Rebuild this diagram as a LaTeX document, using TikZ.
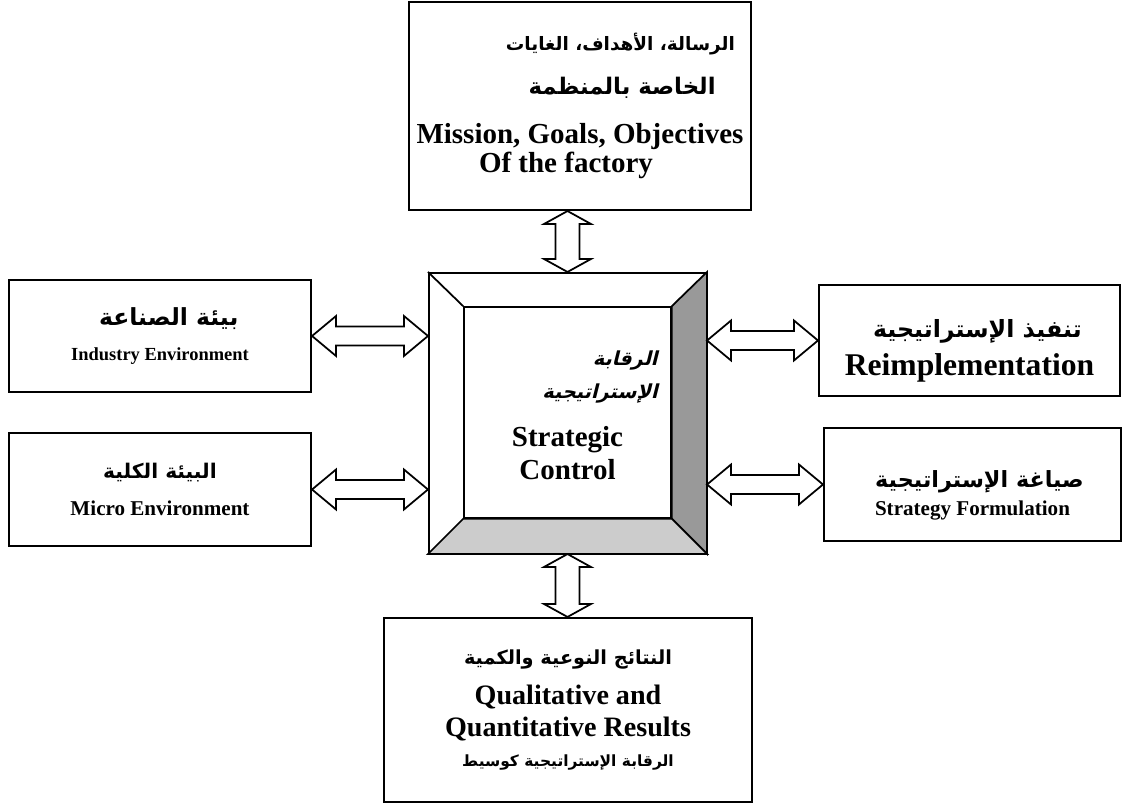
\documentclass[tikz,border=0pt]{standalone}
\usepackage{fontspec}
\setmainfont{Liberation Serif}
\newfontfamily\arabicfont[Script=Arabic]{DejaVu Sans}
\newfontfamily\arabicslant[Script=Arabic,FakeSlant=0.25]{DejaVu Sans Bold}
\TeXXeTstate=1
\usetikzlibrary{calc}

% arabic text, bold, right to left, optional size
\newcommand\artxt[2][13]{{\fontsize{#1}{#1}\selectfont\arabicfont\bfseries\beginR #2\endR}}
\newcommand\arslant[2][11]{{\fontsize{#1}{#1}\selectfont\arabicslant\beginR #2\endR}}
\newcommand\fsz[2]{\fontsize{#1}{#2}\selectfont\bfseries}
\newcommand\padtop[1]{\rule{0pt}{#1}}

% hollow double arrows between two points
\newcommand\hdouble[2]{%
  \draw[dblarrow] let \p1=(#1), \p2=(#2) in
    (\x1,\y1) -- (\x1+13.7pt,\y1+11.4pt) -- (\x1+13.7pt,\y1+5.4pt)
    -- (\x2-13.7pt,\y1+5.4pt) -- (\x2-13.7pt,\y1+11.4pt) -- (\x2,\y1)
    -- (\x2-13.7pt,\y1-11.4pt) -- (\x2-13.7pt,\y1-5.4pt)
    -- (\x1+13.7pt,\y1-5.4pt) -- (\x1+13.7pt,\y1-11.4pt) -- cycle;}
\newcommand\vdouble[2]{%
  \draw[dblarrow] let \p1=(#1), \p2=(#2) in
    (\x1,\y1) -- (\x1+13.4pt,\y1-7.4pt) -- (\x1+6.8pt,\y1-7.4pt)
    -- (\x1+6.8pt,\y2+7.4pt) -- (\x1+13.4pt,\y2+7.4pt) -- (\x1,\y2)
    -- (\x1-13.4pt,\y2+7.4pt) -- (\x1-6.8pt,\y2+7.4pt)
    -- (\x1-6.8pt,\y1-7.4pt) -- (\x1-13.4pt,\y1-7.4pt) -- cycle;}

\begin{document}
\begin{tikzpicture}[
  x=0.02cm,
  y=-0.02cm,
  font=\bfseries,
  box/.style={draw, line width=1.2pt, align=center, inner sep=0pt},
  bevel/.style={draw, line width=1pt, line join=miter},
  dblarrow/.style={draw, fill=white, line width=1pt, line join=miter}
]
  \useasboundingbox (0,0) rectangle (1122,803);

  % mission box
  \node[box, font=\fsz{16.5}{16.5}, minimum width=6.84cm, minimum height=4.16cm] (mission) at (580,106)
    {\hspace*{46pt}\artxt[10.5]{الرسالة، الأهداف، الغايات}\\[8pt]
     \hspace*{48pt}\artxt[13]{الخاصة بالمنظمة}\\[11.5pt]
     Mission, Goals, Objectives\hspace*{8pt}\\
     Of the factory\hspace*{16pt}};

  % left side
  \node[box, font=\fsz{10.5}{20}, minimum width=6.04cm, minimum height=2.24cm] (industry) at (160,336)
    {\hspace*{10pt}\artxt[13.4]{بيئة الصناعة}\\
     Industry Environment};
  \node[box, font=\fsz{12}{21}, minimum width=6.04cm, minimum height=2.26cm] (macro) at (160,489.5)
    {\artxt[11.5]{البيئة الكلية}\\
     Micro Environment};

  % right side
  \node[box, font=\fsz{18}{19}, minimum width=6.02cm, minimum height=2.22cm] (implement) at (969.5,340.5)
    {\padtop{22pt}\hspace*{9pt}\artxt[13.5]{تنفيذ الإستراتيجية}\\[3pt]
     Reimplementation};
  \node[box, font=\fsz{12}{16.5}, minimum width=5.94cm, minimum height=2.26cm] (formulate) at (972.5,484.5)
    {\padtop{22pt}\hspace*{8pt}\artxt[12.7]{صياغة الإستراتيجية}\\
     Strategy Formulation};

  % results box
  \node[box, font=\fsz{16}{17}, minimum width=7.36cm, minimum height=3.68cm] (results) at (568,710)
    {\artxt[11]{النتائج النوعية والكمية}\\[6pt]
     Qualitative and\\[1pt]
     Quantitative Results\\
     \artxt[8.8]{الرقابة الإستراتيجية كوسيط}};

  % strategic control frame
  \node[box, minimum width=5.54cm, minimum height=5.60cm] (control) at (567.5,413) {};
  \node[box, line width=1pt, minimum width=4.14cm, minimum height=4.22cm] (core) at (567.5,412.5) {};
  \filldraw[bevel, fill=black!40] (control.north east) -- (core.north east)
    -- (core.south east) -- (control.south east) -- cycle;
  \filldraw[bevel, fill=black!20] (control.south west) -- (core.south west)
    -- (core.south east) -- (control.south east) -- cycle;
  \draw[bevel] (control.north west) -- (core.north west);
  \node[anchor=east, align=right, inner sep=0pt, font=\fsz{11}{19}] (controlar) at (658,377)
    {\arslant{الرقابة}\\
     \arslant{الإستراتيجية}};
  \node[align=center, inner sep=0pt, font=\fsz{16.5}{19}] (controlen) at (567.5,453)
    {Strategic\\ Control};

  % connectors
  \vdouble{control.north |- mission.south}{control.north}
  \vdouble{control.south}{results.north}
  \hdouble{industry.east}{control.west |- industry.east}
  \hdouble{macro.east}{control.west |- macro.east}
  \hdouble{control.east |- implement.west}{implement.west}
  \hdouble{control.east |- formulate.west}{formulate.west}
\end{tikzpicture}
\end{document}
